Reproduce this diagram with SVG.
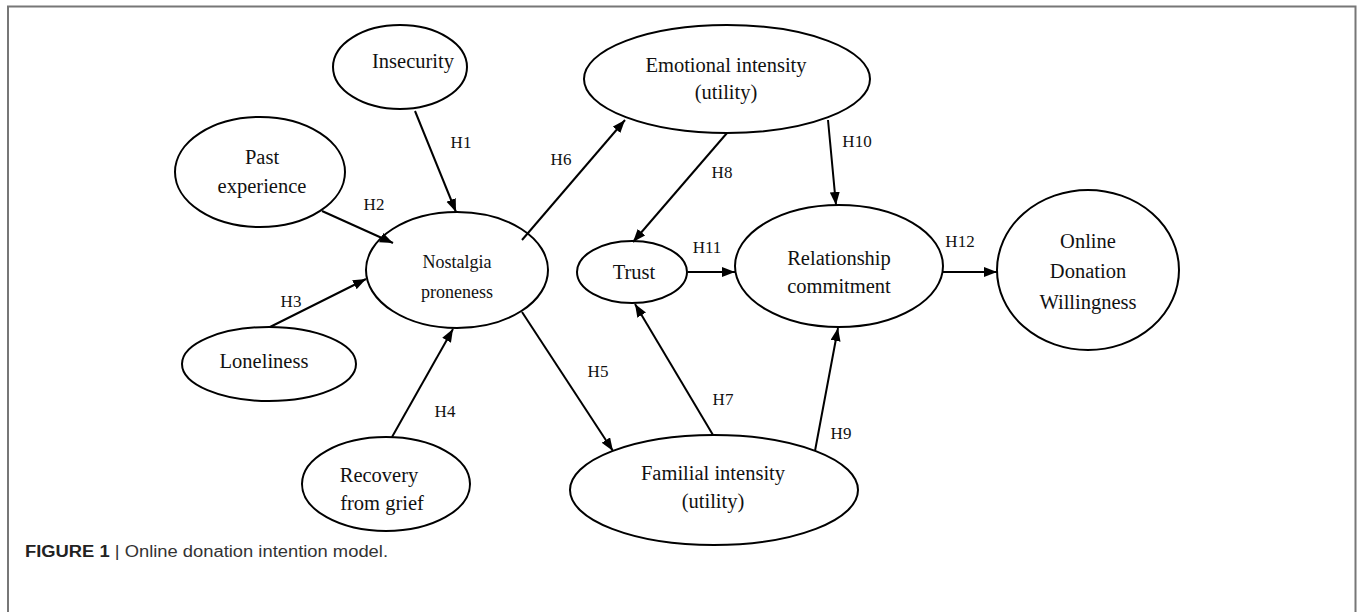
<svg xmlns="http://www.w3.org/2000/svg" width="1357" height="612" viewBox="0 0 1357 612">
<style>
.node ellipse{fill:#fff;stroke:#000;stroke-width:2}
.t{font-family:"Liberation Serif","Times New Roman",serif;font-size:20.5px;fill:#111;text-anchor:middle}
.ts{font-size:18px}
.lbl{font-family:"Liberation Serif","Times New Roman",serif;font-size:17px;fill:#111;text-anchor:middle}
.edge{stroke:#000;stroke-width:2;fill:none;marker-end:url(#ah)}
.cap{font-family:"Liberation Sans",Arial,sans-serif;font-size:16px;fill:#333}
</style>
<defs>
<marker id="ah" markerUnits="userSpaceOnUse" markerWidth="14" markerHeight="12" refX="13" refY="5" orient="auto">
<path d="M0,0 L13,5 L0,10 Z" fill="#000"/>
</marker>
</defs>
<rect width="1357" height="612" fill="#fff"/>
<path d="M8,612 V6.5 H1355.5 V612" fill="none" stroke="#777" stroke-width="2"/>
<g id="insecurity" class="node"><ellipse cx="400" cy="67" rx="67" ry="42"/><text class="t" x="413" y="68">Insecurity</text></g>
<g id="past-experience" class="node"><ellipse cx="260" cy="172" rx="85" ry="55"/><text class="t" x="262" y="164">Past</text><text class="t" x="262" y="193">experience</text></g>
<g id="nostalgia-proneness" class="node"><ellipse cx="457" cy="270" rx="91" ry="58"/><text class="t ts" x="457" y="268">Nostalgia</text><text class="t ts" x="457" y="298">proneness</text></g>
<g id="loneliness" class="node"><ellipse cx="269" cy="364" rx="87" ry="37"/><text class="t" x="264" y="368">Loneliness</text></g>
<g id="recovery-from-grief" class="node"><ellipse cx="386" cy="484" rx="84" ry="47"/><text class="t" x="379" y="482">Recovery</text><text class="t" x="382" y="510">from grief</text></g>
<g id="emotional-intensity" class="node"><ellipse cx="727" cy="79" rx="143" ry="54"/><text class="t" x="726" y="72">Emotional intensity</text><text class="t" x="726" y="99">(utility)</text></g>
<g id="trust" class="node"><ellipse cx="632" cy="272" rx="55" ry="31"/><text class="t" x="634" y="279">Trust</text></g>
<g id="relationship-commitment" class="node"><ellipse cx="839" cy="266" rx="104" ry="61"/><text class="t" x="839" y="265">Relationship</text><text class="t" x="839" y="293">commitment</text></g>
<g id="online-donation-willingness" class="node"><ellipse cx="1088" cy="270" rx="91" ry="80"/><text class="t" x="1088" y="248">Online</text><text class="t" x="1088" y="278">Donation</text><text class="t" x="1088" y="309">Willingness</text></g>
<g id="familial-intensity" class="node"><ellipse cx="714" cy="490" rx="144" ry="55"/><text class="t" x="713" y="480">Familial intensity</text><text class="t" x="713" y="508">(utility)</text></g>
<g id="connectors">
<line class="edge" x1="415" y1="111" x2="456" y2="212"/>
<line class="edge" x1="322" y1="211" x2="393" y2="243"/>
<line class="edge" x1="270" y1="327" x2="366" y2="279"/>
<line class="edge" x1="392" y1="437" x2="453" y2="329"/>
<line class="edge" x1="522" y1="312" x2="613" y2="451"/>
<line class="edge" x1="522" y1="240" x2="625" y2="120"/>
<line class="edge" x1="713" y1="435" x2="635" y2="304"/>
<line class="edge" x1="727" y1="133" x2="633" y2="242"/>
<line class="edge" x1="815" y1="451" x2="838" y2="328"/>
<line class="edge" x1="828" y1="120" x2="836" y2="205"/>
<line class="edge" x1="688" y1="272" x2="735" y2="272"/>
<line class="edge" x1="943" y1="272" x2="997" y2="272"/>
<text class="lbl" x="461" y="148">H1</text>
<text class="lbl" x="374" y="210">H2</text>
<text class="lbl" x="291" y="307">H3</text>
<text class="lbl" x="445" y="417">H4</text>
<text class="lbl" x="598" y="377">H5</text>
<text class="lbl" x="561" y="165">H6</text>
<text class="lbl" x="723" y="405">H7</text>
<text class="lbl" x="722" y="178">H8</text>
<text class="lbl" x="841" y="439">H9</text>
<text class="lbl" x="857" y="147">H10</text>
<text class="lbl" x="707" y="253">H11</text>
<text class="lbl" x="960" y="247">H12</text>
</g>
<text class="cap" x="25" y="557" textLength="363" lengthAdjust="spacingAndGlyphs"><tspan font-weight="bold" fill="#222">FIGURE 1</tspan> | Online donation intention model.</text>
</svg>
